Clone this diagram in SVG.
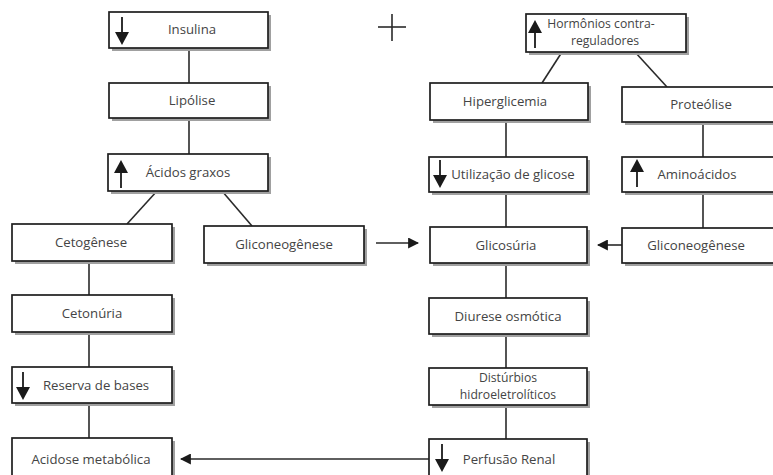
<svg xmlns="http://www.w3.org/2000/svg" width="773" height="475" viewBox="0 0 773 475">
  <style>
    .shadow { fill: #a0a0a0; }
    .box { fill: #ffffff; stroke: #1e1e1e; stroke-width: 1.7; }
    .lbl { font-family: "Open Sans", "Liberation Sans", sans-serif; font-size: 13.2px; fill: #444444; text-anchor: middle; }
    .lbl2 { font-size: 12.2px; }
    .conn { stroke: #2a2a2a; stroke-width: 1.6; fill: none; }
  </style>
  <defs>
    <!-- small "decrease" arrow drawn inside a box, origin at the top of the shaft -->
    <g id="down">
      <line x1="0" y1="0" x2="0" y2="18" stroke="#1a1a1a" stroke-width="1.8"/>
      <polygon points="-7,15 7,15 0,28" fill="#1a1a1a"/>
    </g>
    <!-- small "increase" arrow, origin at the bottom of the shaft -->
    <g id="up">
      <line x1="0" y1="0" x2="0" y2="-18" stroke="#1a1a1a" stroke-width="1.8"/>
      <polygon points="-7,-15 7,-15 0,-28" fill="#1a1a1a"/>
    </g>
    <marker id="head" viewBox="0 0 10 10" refX="9" refY="5" markerWidth="11" markerHeight="11" markerUnits="userSpaceOnUse" orient="auto">
      <path d="M0,0 L10,5 L0,10 Z" fill="#1a1a1a"/>
    </marker>
  </defs>

  <rect width="773" height="475" fill="#ffffff"/>

  <!-- connectors -->
  <g id="connectors">
    <line class="conn" x1="189" y1="48" x2="189" y2="83"/>
    <line class="conn" x1="189" y1="118" x2="189" y2="154"/>
    <line class="conn" x1="157" y1="191" x2="127" y2="224"/>
    <line class="conn" x1="222" y1="191" x2="252" y2="226"/>
    <line class="conn" x1="89" y1="261" x2="89" y2="295"/>
    <line class="conn" x1="89" y1="332" x2="89" y2="367"/>
    <line class="conn" x1="89" y1="403" x2="89" y2="438"/>
    <line class="conn" x1="562" y1="52" x2="542" y2="83"/>
    <line class="conn" x1="635" y1="52" x2="667" y2="87"/>
    <line class="conn" x1="506" y1="120" x2="506" y2="157"/>
    <line class="conn" x1="506" y1="192" x2="506" y2="227"/>
    <line class="conn" x1="506" y1="263" x2="506" y2="298"/>
    <line class="conn" x1="506" y1="334" x2="506" y2="368"/>
    <line class="conn" x1="506" y1="405" x2="506" y2="439"/>
    <line class="conn" x1="703" y1="122" x2="703" y2="157"/>
    <line class="conn" x1="703" y1="192" x2="703" y2="228"/>
    <line class="conn" x1="376" y1="243" x2="418" y2="243" stroke-width="2.2" marker-end="url(#head)"/>
    <line class="conn" x1="622" y1="245" x2="598" y2="245" stroke-width="2.2" marker-end="url(#head)"/>
    <line class="conn" x1="429" y1="459" x2="181" y2="459" stroke-width="1.8" marker-end="url(#head)"/>
    <!-- plus sign between the two branches -->
    <line class="conn" x1="378" y1="27" x2="406" y2="27"/>
    <line class="conn" x1="392" y1="14" x2="392" y2="41"/>
  </g>

  <!-- left branch -->
  <g id="insulina">
    <rect class="shadow" x="112" y="15" width="159" height="36"/>
    <rect class="box" x="109" y="12" width="159" height="36"/>
    <use href="#down" x="122" y="17"/>
    <text class="lbl" x="192" y="34">Insulina</text>
  </g>
  <g id="lipolise">
    <rect class="shadow" x="112" y="86" width="159" height="35"/>
    <rect class="box" x="109" y="83" width="159" height="35"/>
    <text class="lbl" x="192" y="105">Lipólise</text>
  </g>
  <g id="acidos-graxos">
    <rect class="shadow" x="111" y="157" width="160" height="37"/>
    <rect class="box" x="108" y="154" width="160" height="37"/>
    <use href="#up" x="121" y="188"/>
    <text class="lbl" x="188" y="177">Ácidos graxos</text>
  </g>
  <g id="cetogenese">
    <rect class="shadow" x="15" y="227" width="160" height="37"/>
    <rect class="box" x="12" y="224" width="160" height="37"/>
    <text class="lbl" x="91" y="247">Cetogênese</text>
  </g>
  <g id="gliconeogenese-1">
    <rect class="shadow" x="207" y="229" width="160" height="37"/>
    <rect class="box" x="204" y="226" width="160" height="37"/>
    <text class="lbl" x="284" y="249">Gliconeogênese</text>
  </g>
  <g id="cetonuria">
    <rect class="shadow" x="15" y="298" width="160" height="37"/>
    <rect class="box" x="12" y="295" width="160" height="37"/>
    <text class="lbl" x="92" y="318">Cetonúria</text>
  </g>
  <g id="reserva-bases">
    <rect class="shadow" x="15" y="370" width="160" height="36"/>
    <rect class="box" x="12" y="367" width="160" height="36"/>
    <use href="#down" x="23" y="372"/>
    <text class="lbl" x="96" y="390">Reserva de bases</text>
  </g>
  <g id="acidose">
    <rect class="shadow" x="15" y="441" width="160" height="40"/>
    <rect class="box" x="12" y="438" width="160" height="40"/>
    <text class="lbl" x="91" y="464">Acidose metabólica</text>
  </g>

  <!-- right branch -->
  <g id="hormonios">
    <rect class="shadow" x="529" y="17" width="160" height="38"/>
    <rect class="box" x="526" y="14" width="160" height="38"/>
    <use href="#up" x="535" y="48"/>
    <text class="lbl lbl2" x="601" y="28">Hormônios contra-</text>
    <text class="lbl lbl2" x="605" y="45">reguladores</text>
  </g>
  <g id="hiperglicemia">
    <rect class="shadow" x="433" y="86" width="158" height="37"/>
    <rect class="box" x="430" y="83" width="158" height="37"/>
    <text class="lbl" x="505" y="106">Hiperglicemia</text>
  </g>
  <g id="proteolise">
    <rect class="shadow" x="625" y="90" width="160" height="35"/>
    <rect class="box" x="622" y="87" width="160" height="35"/>
    <text class="lbl" x="701" y="109">Proteólise</text>
  </g>
  <g id="utilizacao-glicose">
    <rect class="shadow" x="432" y="160" width="158" height="35"/>
    <rect class="box" x="429" y="157" width="158" height="35"/>
    <use href="#down" x="440" y="160"/>
    <text class="lbl" x="513" y="179">Utilização de glicose</text>
  </g>
  <g id="aminoacidos">
    <rect class="shadow" x="625" y="160" width="160" height="35"/>
    <rect class="box" x="622" y="157" width="160" height="35"/>
    <use href="#up" x="637" y="187"/>
    <text class="lbl" x="697" y="179">Aminoácidos</text>
  </g>
  <g id="glicosuria">
    <rect class="shadow" x="433" y="230" width="157" height="36"/>
    <rect class="box" x="430" y="227" width="157" height="36"/>
    <text class="lbl" x="506" y="250">Glicosúria</text>
  </g>
  <g id="gliconeogenese-2">
    <rect class="shadow" x="625" y="231" width="160" height="35"/>
    <rect class="box" x="622" y="228" width="160" height="35"/>
    <text class="lbl" x="696" y="250">Gliconeogênese</text>
  </g>
  <g id="diurese">
    <rect class="shadow" x="432" y="301" width="158" height="36"/>
    <rect class="box" x="429" y="298" width="158" height="36"/>
    <text class="lbl" x="508" y="321">Diurese osmótica</text>
  </g>
  <g id="disturbios">
    <rect class="shadow" x="432" y="371" width="158" height="37"/>
    <rect class="box" x="429" y="368" width="158" height="37"/>
    <text class="lbl lbl2" x="508" y="382">Distúrbios</text>
    <text class="lbl lbl2" x="508" y="399">hidroeletrolíticos</text>
  </g>
  <g id="perfusao">
    <rect class="shadow" x="432" y="442" width="158" height="40"/>
    <rect class="box" x="429" y="439" width="158" height="40"/>
    <use href="#down" x="442" y="444"/>
    <text class="lbl" x="509" y="464">Perfusão Renal</text>
  </g>
</svg>
